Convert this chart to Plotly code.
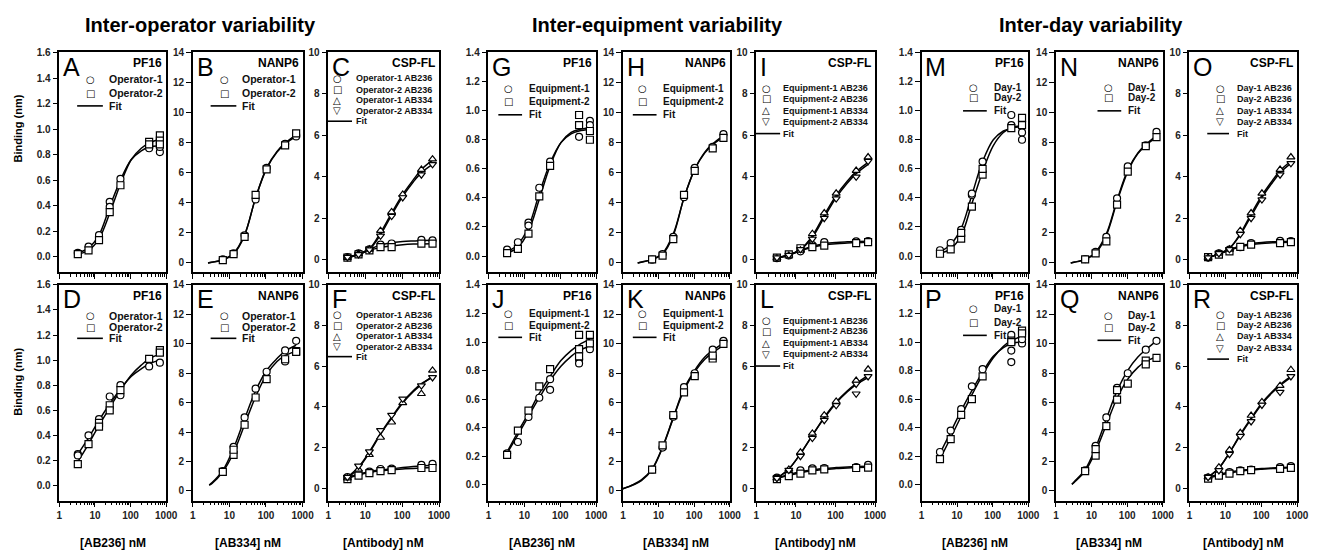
import plotly.graph_objects as go

# ---------------- data ----------------
CONC_PF = [3.3, 6.6, 13, 26, 52, 333, 667]          # PF16 and AB236 on CSP-FL
CONC_NANP = [6.6, 13, 26, 52, 104, 333, 667]        # NANP6
CONC_334 = [3.3, 6.6, 13, 26, 52, 104, 333, 667]    # AB334 on CSP-FL
FIT_X = [3.3, 6.6, 13, 26, 52, 104, 200, 333, 667]
FIT_X_NANP = [2.6, 3.3, 6.6, 13, 26, 52, 104, 200, 333, 667]
FIT_X_E = [2.8, 3.3, 6.6, 13, 26, 52, 104, 200, 333, 667]
FIT_X_K = [1, 2, 3.3, 6.6, 13, 26, 52, 104, 200, 333, 667]

# Inter-operator
A_OP1 = [0.03, 0.08, 0.17, [0.43, 0.39], 0.61, [0.86, 0.85], [0.82, 0.86]]
A_OP2 = [0.02, 0.05, 0.13, 0.35, 0.56, [0.90, 0.88], [0.95, 0.91, 0.88]]
A_FIT1 = [0.03, 0.07, 0.17, 0.39, 0.60, 0.76, 0.83, 0.86, 0.87]
A_FIT2 = [0.02, 0.05, 0.14, 0.34, 0.57, 0.76, 0.85, 0.89, 0.92]

B_OP1 = [0.2, 0.6, 1.8, 4.2, 6.3, 7.9, [8.5, 8.4]]
B_OP2 = [0.15, 0.55, 1.7, 4.5, 6.2, 7.8, 8.6]
B_FIT1 = [-0.05, 0.0, 0.18, 0.6, 1.85, 4.3, 6.25, 7.35, 7.9, 8.4]
B_FIT2 = [-0.05, 0.0, 0.15, 0.55, 1.8, 4.3, 6.3, 7.4, 7.95, 8.5]

C_OP1_236 = [0.12, 0.3, 0.5, 0.72, 0.78, 0.95, 0.93]
C_OP2_236 = [0.1, 0.25, 0.45, 0.6, 0.6, 0.77, 0.77]
C_OP1_334 = [0.1, 0.28, 0.5, 1.4, 2.3, 3.15, 4.35, 4.85]
C_OP2_334 = [0.12, 0.25, 0.48, 1.15, 2.1, 3.0, 4.1, 4.6]
C_FIT1_236 = [0.1, 0.28, 0.5, 0.7, 0.82, 0.87, 0.9, 0.92, 0.93]
C_FIT2_236 = [0.1, 0.25, 0.45, 0.58, 0.66, 0.72, 0.75, 0.76, 0.77]
C_FIT1_334 = [0.1, 0.26, 0.52, 1.3, 2.25, 3.15, 3.85, 4.35, 4.8]
C_FIT2_334 = [0.1, 0.25, 0.5, 1.2, 2.15, 3.05, 3.75, 4.2, 4.6]

D_OP1 = [[0.25, 0.24], 0.4, 0.53, 0.71, [0.8, 0.72], 0.95, 0.98]
D_OP2 = [0.17, 0.33, [0.5, 0.47], [0.64, 0.6], 0.76, 1.01, [1.08, 1.06]]
D_FIT1 = [0.25, 0.38, 0.52, 0.65, 0.77, 0.87, 0.93, 0.97, 1.0]
D_FIT2 = [0.19, 0.33, 0.48, 0.62, 0.76, 0.88, 0.96, 1.01, 1.05]

E_OP1 = [1.35, 3.0, 5.0, 6.95, 8.1, [9.55, 8.8], 10.2]
E_OP2 = [1.3, [2.45, 2.8], 4.5, 6.35, 7.6, 8.95, [9.5, 9.45]]
E_FIT1 = [0.4, 0.55, 1.4, 2.9, 4.9, 6.8, 8.2, 9.0, 9.5, 9.9]
E_FIT2 = [0.4, 0.5, 1.3, 2.6, 4.5, 6.4, 7.9, 8.8, 9.2, 9.5]

F_OP1_236 = [0.55, 0.72, 0.82, 0.95, 0.97, 1.15, 1.2]
F_OP2_236 = [0.45, 0.62, 0.75, 0.85, 0.9, 1.0, 1.0]
F_OP1_334 = [0.5, 0.93, 1.65, 2.5, 3.25, 4.2, 4.65, 5.8]
F_OP2_334 = [0.55, 1.1, 1.8, 2.85, 3.6, 4.4, 5.05, 5.45]
F_FIT1_236 = [0.55, 0.7, 0.82, 0.9, 0.96, 1.02, 1.07, 1.1, 1.13]
F_FIT2_236 = [0.5, 0.66, 0.78, 0.86, 0.91, 0.95, 0.98, 1.0, 1.02]
F_FIT1_334 = [0.5, 1.0, 1.75, 2.65, 3.45, 4.2, 4.75, 5.1, 5.5]
F_FIT2_334 = [0.55, 1.05, 1.8, 2.7, 3.5, 4.25, 4.8, 5.15, 5.45]

# Inter-equipment
G_EQ1 = [0.045, 0.095, [0.23, 0.21], 0.47, 0.65, 0.82, [0.93, 0.9]]
G_EQ2 = [0.02, 0.05, 0.155, 0.41, 0.62, [0.97, 0.9], [0.86, 0.8]]
G_FIT1 = [0.03, 0.08, 0.2, 0.43, 0.64, 0.78, 0.84, 0.86, 0.87]
G_FIT2 = [0.02, 0.06, 0.17, 0.39, 0.62, 0.78, 0.85, 0.87, 0.88]

H_EQ1 = [0.18, 0.55, 1.7, 4.35, 6.3, 7.7, 8.55]
H_EQ2 = [0.2, 0.45, 1.55, 4.5, 6.1, 7.6, 8.3]
H_FIT1 = [-0.05, 0.02, 0.2, 0.6, 1.9, 4.3, 6.2, 7.35, 7.9, 8.45]
H_FIT2 = [-0.05, 0.0, 0.18, 0.55, 1.8, 4.3, 6.2, 7.3, 7.85, 8.35]

I_EQ1_236 = [0.07, 0.2, 0.4, 0.7, 0.85, 0.88, 0.9]
I_EQ2_236 = [0.1, 0.25, 0.55, 0.6, 0.68, 0.8, 0.85]
I_EQ1_334 = [0.07, 0.2, 0.45, 1.25, 2.25, 3.2, 4.3, 4.95]
I_EQ2_334 = [0.1, 0.22, 0.5, 1.0, 2.0, 2.95, 4.0, 4.75]
I_FIT1_236 = [0.08, 0.22, 0.45, 0.65, 0.77, 0.83, 0.86, 0.88, 0.89]
I_FIT2_236 = [0.08, 0.22, 0.43, 0.6, 0.71, 0.77, 0.8, 0.82, 0.84]
I_FIT1_334 = [0.08, 0.22, 0.5, 1.15, 2.15, 3.1, 3.8, 4.25, 4.7]
I_FIT2_334 = [0.08, 0.22, 0.48, 1.08, 2.05, 3.0, 3.7, 4.15, 4.6]

J_EQ1 = [0.22, 0.3, 0.475, 0.61, [0.665, 0.74], [0.95, 0.88, 0.85], 0.95]
J_EQ2 = [0.21, 0.38, 0.52, 0.69, 0.81, [1.05, 0.95, 0.9], [1.05, 0.99]]
J_FIT1 = [0.22, 0.35, 0.48, 0.61, 0.73, 0.83, 0.9, 0.94, 0.97]
J_FIT2 = [0.23, 0.37, 0.5, 0.64, 0.76, 0.87, 0.94, 0.98, 1.02]

K_EQ1 = [1.45, 2.95, 5.05, 7.05, 8.0, 9.6, 10.2]
K_EQ2 = [1.45, 3.1, 5.15, 6.7, 7.8, [9.0, 9.2], 10.0]
K_FIT1 = [0.15, 0.45, 0.75, 1.5, 3.0, 5.0, 6.95, 8.2, 9.1, 9.55, 10.05]
K_FIT2 = [0.15, 0.42, 0.7, 1.45, 2.95, 4.95, 6.85, 8.1, 8.95, 9.4, 9.9]

L_EQ1_236 = [0.53, 0.7, 0.88, 0.98, 1.0, 1.05, 1.15]
L_EQ2_236 = [0.45, 0.6, 0.72, 0.88, 0.93, 1.0, 1.02]
L_EQ1_334 = [0.5, 0.93, 1.77, 2.7, 3.6, 4.27, 5.3, 5.85]
L_EQ2_334 = [0.5, 0.9, 1.58, 2.47, 3.35, 4.08, [5.13, 4.65], 5.5]
L_FIT1_236 = [0.5, 0.68, 0.82, 0.92, 0.98, 1.02, 1.05, 1.07, 1.09]
L_FIT2_236 = [0.48, 0.64, 0.77, 0.87, 0.93, 0.97, 1.0, 1.02, 1.04]
L_FIT1_334 = [0.5, 0.95, 1.7, 2.6, 3.5, 4.25, 4.8, 5.15, 5.55]
L_FIT2_334 = [0.5, 0.95, 1.7, 2.6, 3.45, 4.2, 4.75, 5.1, 5.45]

# Inter-day
M_D1 = [0.04, 0.09, 0.18, [0.42, 0.43], 0.65, [0.97, 0.9], [0.85, 0.8]]
M_D2 = [0.016, 0.046, [0.12, 0.16], 0.34, [0.56, 0.6], 0.88, [0.95, 0.9]]
M_FIT1 = [0.03, 0.08, 0.19, 0.42, 0.65, 0.8, 0.86, 0.88, 0.89]
M_FIT2 = [0.02, 0.05, 0.14, 0.36, 0.58, 0.76, 0.85, 0.88, 0.9]

N_D1 = [0.22, 0.7, 1.7, 4.27, 6.4, 7.8, 8.7]
N_D2 = [0.2, 0.6, 1.4, 3.85, 6.05, 7.75, 8.35]
N_FIT1 = [-0.05, 0.02, 0.2, 0.68, 1.9, 4.15, 6.15, 7.3, 7.85, 8.45]
N_FIT2 = [-0.05, 0.0, 0.18, 0.62, 1.8, 4.05, 6.05, 7.25, 7.8, 8.35]

O_D1_236 = [0.1, 0.3, 0.48, 0.6, 0.8, 0.91, 0.9]
O_D2_236 = [0.12, 0.24, 0.4, 0.62, 0.72, 0.8, 0.85]
O_D1_334 = [0.1, 0.3, 0.5, 1.4, 2.25, 3.2, 4.35, 4.95]
O_D2_334 = [0.1, 0.3, 0.5, 1.23, 2.0, 2.9, 4.1, 4.65]
O_FIT1_236 = [0.1, 0.28, 0.48, 0.66, 0.77, 0.83, 0.86, 0.87, 0.88]
O_FIT2_236 = [0.1, 0.27, 0.45, 0.62, 0.72, 0.78, 0.81, 0.83, 0.84]
O_FIT1_334 = [0.1, 0.28, 0.55, 1.25, 2.2, 3.1, 3.8, 4.3, 4.75]
O_FIT2_334 = [0.1, 0.28, 0.55, 1.2, 2.1, 3.0, 3.7, 4.2, 4.65]

P_D1 = [0.23, 0.38, 0.53, 0.69, 0.81, [1.05, 0.94, 0.86], [0.99, 1.02]]
P_D2 = [0.18, 0.32, 0.49, 0.6, 0.76, [1.01, 1.0], [1.08, 1.06]]
P_FIT1 = [0.22, 0.37, 0.52, 0.66, 0.79, 0.9, 0.96, 0.99, 1.0]
P_FIT2 = [0.18, 0.33, 0.48, 0.63, 0.77, 0.89, 0.97, 1.01, 1.04]

Q_D1 = [1.4, 3.07, 5.0, 7.0, 8.0, 9.6, 10.2]
Q_D2 = [1.35, [2.4, 2.85], 4.4, [6.85, 6.2], 7.3, [8.85, 8.6], 9.05]
Q_FIT1 = [0.45, 0.65, 1.45, 2.95, 4.9, 6.8, 8.2, 9.1, 9.6, 10.2]
Q_FIT2 = [0.45, 0.6, 1.35, 2.7, 4.5, 6.3, 7.6, 8.4, 8.8, 9.1]

R_D1_236 = [0.53, 0.64, 0.8, 0.88, 0.92, 1.04, 1.09]
R_D2_236 = [0.48, 0.62, 0.72, 0.85, 0.9, 0.96, 1.01]
R_D1_334 = [0.55, 1.04, 1.88, 2.73, 3.58, 4.25, 5.05, 5.83]
R_D2_334 = [0.55, 0.88, 1.68, 2.57, 3.29, 4.1, 4.73, 5.5]
R_FIT1_236 = [0.55, 0.68, 0.8, 0.88, 0.93, 0.97, 1.0, 1.02, 1.04]
R_FIT2_236 = [0.5, 0.64, 0.75, 0.84, 0.9, 0.94, 0.97, 0.99, 1.01]
R_FIT1_334 = [0.55, 1.0, 1.75, 2.65, 3.45, 4.2, 4.75, 5.1, 5.5]
R_FIT2_334 = [0.55, 1.0, 1.75, 2.6, 3.4, 4.15, 4.7, 5.05, 5.45]

GROUP_TITLES = ["Inter-operator variability", "Inter-equipment variability", "Inter-day variability"]
X_TITLES = ["[AB236] nM", "[AB334] nM", "[Antibody] nM"]
Y_TITLE = "Binding (nm)"

# ---------------- layout geometry (pixels) ----------------
W, H = 1329, 550
COLS = [(57, 165), (192, 303), (329, 441), (491, 600), (627, 735), (762, 882),
        (929, 1037), (1065, 1173), (1200, 1309)]
ROWS = [(47, 269), (282, 500)]
GROUP_CX = [200, 662, 1100]
YCFG = {
    "pf16a": dict(range=[-0.12, 1.6], dtick=0.2, tickformat=".1f"),
    "pf16b": dict(range=[-0.11, 1.4], dtick=0.2, tickformat=".1f"),
    "nanp": dict(range=[-0.65, 14], dtick=2, tickformat="d"),
    "csp": dict(range=[-0.6, 10], dtick=2, tickformat="d"),
}
SYMS = {"circle": "\u25CB", "square": "\u25A1", "triangle-up": "\u25B3", "triangle-down": "\u25BD"}


def two(lbl1, lbl2, conc, v1, v2, fx, f1, f2):
    return [(lbl1, "circle", conc, v1, fx, f1), (lbl2, "square", conc, v2, fx, f2)]


def four(pre, a1, a2, b1, b2, fa1, fa2, fb1, fb2):
    return [(pre + "-1 AB236", "circle", CONC_PF, a1, FIT_X, fa1),
            (pre + "-2 AB236", "square", CONC_PF, a2, FIT_X, fa2),
            (pre + "-1 AB334", "triangle-up", CONC_334, b1, FIT_X, fb1),
            (pre + "-2 AB334", "triangle-down", CONC_334, b2, FIT_X, fb2)]


# legend geometry: (symbol dx, text dx, fit line x0, x1)
LG_OP2 = (32, 49, 18, 44)
LG_OPC = (9, 27, -2, 24)
LG_EQ2 = (20, 40, 10, 34)
LG_EQC = (10, 26, -2, 24)
LG_DY2 = (53, 72, 42, 66)
LG_DYC = (31, 47, 18, 40)

panels = [
    ("A", 0, 0, "PF16", "pf16a", two("Operator-1", "Operator-2", CONC_PF, A_OP1, A_OP2, FIT_X, A_FIT1, A_FIT2), LG_OP2, [27, 41, 54], 10.5),
    ("B", 0, 1, "NANP6", "nanp", two("Operator-1", "Operator-2", CONC_NANP, B_OP1, B_OP2, FIT_X_NANP, B_FIT1, B_FIT2), LG_OP2, [27, 41, 54], 10.5),
    ("C", 0, 2, "CSP-FL", "csp", four("Operator", C_OP1_236, C_OP2_236, C_OP1_334, C_OP2_334, C_FIT1_236, C_FIT2_236, C_FIT1_334, C_FIT2_334), LG_OPC, [26, 37.5, 48.5, 59, 69.5], 9),
    ("D", 1, 0, "PF16", "pf16a", two("Operator-1", "Operator-2", CONC_PF, D_OP1, D_OP2, FIT_X, D_FIT1, D_FIT2), LG_OP2, [31, 43, 54], 10.5),
    ("E", 1, 1, "NANP6", "nanp", two("Operator-1", "Operator-2", CONC_NANP, E_OP1, E_OP2, FIT_X_E, E_FIT1, E_FIT2), LG_OP2, [31, 43, 54], 10.5),
    ("F", 1, 2, "CSP-FL", "csp", four("Operator", F_OP1_236, F_OP2_236, F_OP1_334, F_OP2_334, F_FIT1_236, F_FIT2_236, F_FIT1_334, F_FIT2_334), LG_OPC, [30, 41.5, 52, 62.5, 72.5], 9),
    ("G", 0, 3, "PF16", "pf16b", two("Equipment-1", "Equipment-2", CONC_PF, G_EQ1, G_EQ2, FIT_X, G_FIT1, G_FIT2), LG_EQ2, [36, 50, 63], 10),
    ("H", 0, 4, "NANP6", "nanp", two("Equipment-1", "Equipment-2", CONC_NANP, H_EQ1, H_EQ2, FIT_X_NANP, H_FIT1, H_FIT2), LG_EQ2, [36, 50, 63], 10),
    ("I", 0, 5, "CSP-FL", "csp", four("Equipment", I_EQ1_236, I_EQ2_236, I_EQ1_334, I_EQ2_334, I_FIT1_236, I_FIT2_236, I_FIT1_334, I_FIT2_334), LG_EQC, [36, 47, 59, 70, 82], 9),
    ("J", 1, 3, "PF16", "pf16b", two("Equipment-1", "Equipment-2", CONC_PF, J_EQ1, J_EQ2, FIT_X, J_FIT1, J_FIT2), LG_EQ2, [29, 41, 53], 10),
    ("K", 1, 4, "NANP6", "nanp", two("Equipment-1", "Equipment-2", CONC_NANP, K_EQ1, K_EQ2, FIT_X_K, K_FIT1, K_FIT2), LG_EQ2, [29, 41, 53], 10),
    ("L", 1, 5, "CSP-FL", "csp", four("Equipment", L_EQ1_236, L_EQ2_236, L_EQ1_334, L_EQ2_334, L_FIT1_236, L_FIT2_236, L_FIT1_334, L_FIT2_334), LG_EQC, [36, 47, 59, 70, 82], 9),
    ("M", 0, 6, "PF16", "pf16b", two("Day-1", "Day-2", CONC_PF, M_D1, M_D2, FIT_X, M_FIT1, M_FIT2), LG_DY2, [35, 46, 59], 10),
    ("N", 0, 7, "NANP6", "nanp", two("Day-1", "Day-2", CONC_NANP, N_D1, N_D2, FIT_X_NANP, N_FIT1, N_FIT2), LG_DY2, [35, 46, 59], 10),
    ("O", 0, 8, "CSP-FL", "csp", four("Day", O_D1_236, O_D2_236, O_D1_334, O_D2_334, O_FIT1_236, O_FIT2_236, O_FIT1_334, O_FIT2_334), LG_DYC, [36, 47, 59, 70, 82], 9),
    ("P", 1, 6, "PF16", "pf16b", two("Day-1", "Day-2", CONC_PF, P_D1, P_D2, FIT_X, P_FIT1, P_FIT2), LG_DY2, [24, 38, 51], 10),
    ("Q", 1, 7, "NANP6", "nanp", two("Day-1", "Day-2", CONC_NANP, Q_D1, Q_D2, FIT_X_E, Q_FIT1, Q_FIT2), LG_DY2, [31, 43, 56], 10),
    ("R", 1, 8, "CSP-FL", "csp", four("Day", R_D1_236, R_D2_236, R_D1_334, R_D2_334, R_FIT1_236, R_FIT2_236, R_FIT1_334, R_FIT2_334), LG_DYC, [30, 41, 52, 64, 75], 9),
]


def px(x):
    return x / W


def py(y):
    return 1 - y / H


FONT = "Liberation Sans, Arial, sans-serif"
fig = go.Figure()
annotations = []
shapes = []
layout = {}

for i, (letter, row, col, name, ykind, series, lg, rows_dy, lfs) in enumerate(panels, start=1):
    Lx, Rx = COLS[col]
    T, B = ROWS[row]
    xa, ya = f"x{i}", f"y{i}"
    xkey, ykey = f"xaxis{i}", f"yaxis{i}"
    layout[xkey] = dict(
        domain=[px(Lx), px(Rx)], anchor=ya, type="log", range=[0, 3], dtick=1,
        showline=True, mirror=True, linecolor="black", linewidth=1.5,
        ticks="outside", ticklen=5, tickwidth=1, tickcolor="black",
        minor=dict(ticks="outside", ticklen=3, tickwidth=1, tickcolor="black", dtick="D1", showgrid=False),
        showgrid=False, zeroline=False, showticklabels=(row == 1),
        tickfont=dict(family=FONT, size=10, color="#222", weight="bold"),
    )
    yc = YCFG[ykind]
    layout[ykey] = dict(
        domain=[py(B), py(T)], anchor=xa, range=yc["range"], dtick=yc["dtick"], tick0=0,
        tickformat=yc["tickformat"],
        showline=True, mirror=True, linecolor="black", linewidth=1.5,
        ticks="outside", ticklen=5, tickwidth=1, tickcolor="black",
        showgrid=False, zeroline=False,
        tickfont=dict(family=FONT, size=10, color="#222", weight="bold"),
    )
    # fit lines
    for (lbl, sym, conc, vals, fx, fy) in series:
        fig.add_trace(go.Scatter(x=fx, y=fy, xaxis=xa, yaxis=ya, mode="lines",
                                 line=dict(color="black", width=1.5, shape="spline", smoothing=1.0),
                                 showlegend=False, hoverinfo="skip"))
    # data markers
    for (lbl, sym, conc, vals, fx, fy) in series:
        xs, ys = [], []
        for c, v in zip(conc, vals):
            for vv in (v if isinstance(v, list) else [v]):
                xs.append(c)
                ys.append(vv)
        fig.add_trace(go.Scatter(x=xs, y=ys, xaxis=xa, yaxis=ya, mode="markers", name=lbl,
                                 marker=dict(symbol=sym, size=7, color="white",
                                             line=dict(color="black", width=1.2)),
                                 showlegend=False))
    # panel letter
    annotations.append(dict(x=px(Lx + 2), y=py(T - 2), xref="paper", yref="paper",
                            xanchor="left", yanchor="top", showarrow=False, text=letter,
                            font=dict(family=FONT, size=25, color="black")))
    # panel name
    annotations.append(dict(x=px(Rx - 2), y=py(T + 11), xref="paper", yref="paper",
                            xanchor="right", yanchor="middle", showarrow=False,
                            text=f"<b>{name}</b>",
                            font=dict(family=FONT, size=12, color="black")))
    # legend
    sdx, tdx, l0, l1 = lg
    items = [(s[0], s[1]) for s in series] + [("Fit", None)]
    for (lbl, sym), dy in zip(items, rows_dy):
        yy = py(T + dy)
        if sym is None:
            shapes.append(dict(type="line", xref="paper", yref="paper", x0=px(Lx + l0), x1=px(Lx + l1),
                               y0=yy, y1=yy, line=dict(color="black", width=1.6)))
        else:
            annotations.append(dict(x=px(Lx + sdx), y=yy, xref="paper", yref="paper",
                                    xanchor="center", yanchor="middle", showarrow=False, borderpad=0,
                                    text=SYMS[sym], font=dict(family="DejaVu Sans", size=10, color="black")))
        annotations.append(dict(x=px(Lx + tdx), y=yy, xref="paper", yref="paper",
                                xanchor="left", yanchor="middle", showarrow=False, borderpad=0,
                                text=f"<b>{lbl}</b>", font=dict(family=FONT, size=lfs, color="#111")))
    # x title for bottom row
    if row == 1:
        annotations.append(dict(x=px((Lx + Rx) / 2), y=py(543), xref="paper", yref="paper",
                                xanchor="center", yanchor="middle", showarrow=False,
                                text=f"<b>{X_TITLES[col % 3]}</b>",
                                font=dict(family=FONT, size=12, color="black")))

for g, t in enumerate(GROUP_TITLES):
    annotations.append(dict(x=px(GROUP_CX[g]), y=py(19), xref="paper", yref="paper",
                            xanchor="center", yanchor="middle", showarrow=False,
                            text=f"<b>{t}</b>", font=dict(family=FONT, size=20, color="black")))
for yc_ in (124, 380):
    annotations.append(dict(x=px(15), y=py(yc_), xref="paper", yref="paper",
                            xanchor="center", yanchor="middle", showarrow=False, textangle=-90,
                            text=f"<b>{Y_TITLE}</b>", font=dict(family=FONT, size=11, color="black")))

fig.update_layout(
    width=W, height=H, margin=dict(l=0, r=0, t=0, b=0),
    paper_bgcolor="white", plot_bgcolor="white", showlegend=False,
    annotations=annotations, shapes=shapes, **layout,
)
POST = ("document.documentElement.style.margin='0';document.body.style.margin='0';"
        "document.body.style.overflow='hidden';"
        "var d=document.getElementById('{plot_id}');d.style.position='fixed';"
        "d.style.left='0px';d.style.top='0px';")
fig.write_html("out.html", post_script=POST, config={"displayModeBar": False})
